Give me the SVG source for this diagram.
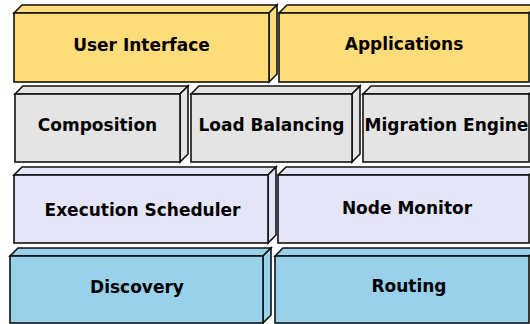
<svg xmlns="http://www.w3.org/2000/svg" width="530" height="324" viewBox="0 0 530 324">
  <style>
    .edge { stroke: #111; stroke-width: 1.6; stroke-linejoin: miter; }
    .yellow { fill: #fedc7a; }
    .grey { fill: #e4e4e4; }
    .lav { fill: #e5e5f8; }
    .blue { fill: #99d0ea; }
    .label { font-family: "DejaVu Sans", "Liberation Sans", sans-serif; font-weight: bold; font-size: 17px; fill: #000; text-anchor: middle; }
  </style>
  <rect width="530" height="324" fill="#ffffff"/>

  <!-- top layer -->
  <g id="user-interface">
    <path class="yellow edge" d="M14,13 L22,5 L277,5 L269,13 Z"/>
    <path class="yellow edge" d="M269,13 L277,5 L277,74 L269,82 Z"/>
    <rect class="yellow edge" x="14" y="13" width="255" height="69"/>
    <text class="label" x="141.5" y="51">User Interface</text>
  </g>
  <g id="applications">
    <path class="yellow edge" d="M279,13 L287,5 L537,5 L529,13 Z"/>
    <rect class="yellow edge" x="279" y="13" width="250" height="69"/>
    <text class="label" x="404" y="49.5">Applications</text>
  </g>

  <!-- second layer -->
  <g id="composition">
    <path class="grey edge" d="M15,94 L23,86 L188,86 L180,94 Z"/>
    <path class="grey edge" d="M180,94 L188,86 L188,154 L180,162 Z"/>
    <rect class="grey edge" x="15" y="94" width="165" height="68"/>
    <text class="label" x="97.5" y="131">Composition</text>
  </g>
  <g id="load-balancing">
    <path class="grey edge" d="M191,94 L199,86 L360,86 L352,94 Z"/>
    <path class="grey edge" d="M352,94 L360,86 L360,154 L352,162 Z"/>
    <rect class="grey edge" x="191" y="94" width="161" height="68"/>
    <text class="label" x="271.5" y="131">Load Balancing</text>
  </g>
  <g id="migration-engine">
    <path class="grey edge" d="M363,94 L371,86 L537,86 L529,94 Z"/>
    <rect class="grey edge" x="363" y="94" width="166" height="68"/>
    <text class="label" x="446.5" y="131">Migration Engine</text>
  </g>

  <!-- third layer -->
  <g id="execution-scheduler">
    <path class="lav edge" d="M14,175 L22,167 L276,167 L268,175 Z"/>
    <path class="lav edge" d="M268,175 L276,167 L276,235 L268,243 Z"/>
    <rect class="lav edge" x="14" y="175" width="254" height="68"/>
    <text class="label" x="142.5" y="216">Execution Scheduler</text>
  </g>
  <g id="node-monitor">
    <path class="lav edge" d="M278,175 L286,167 L537,167 L529,175 Z"/>
    <rect class="lav edge" x="278" y="175" width="251" height="68"/>
    <text class="label" x="407" y="214">Node Monitor</text>
  </g>

  <!-- bottom layer -->
  <g id="discovery">
    <path class="blue edge" d="M10,256 L18,248 L271,248 L263,256 Z"/>
    <path class="blue edge" d="M263,256 L271,248 L271,315 L263,323 Z"/>
    <rect class="blue edge" x="10" y="256" width="253" height="67"/>
    <text class="label" x="137" y="293">Discovery</text>
  </g>
  <g id="routing">
    <path class="blue edge" d="M275,256 L283,248 L537,248 L529,256 Z"/>
    <rect class="blue edge" x="275" y="256" width="254" height="67"/>
    <text class="label" x="409" y="292">Routing</text>
  </g>

  <g id="connectors"/>
</svg>
